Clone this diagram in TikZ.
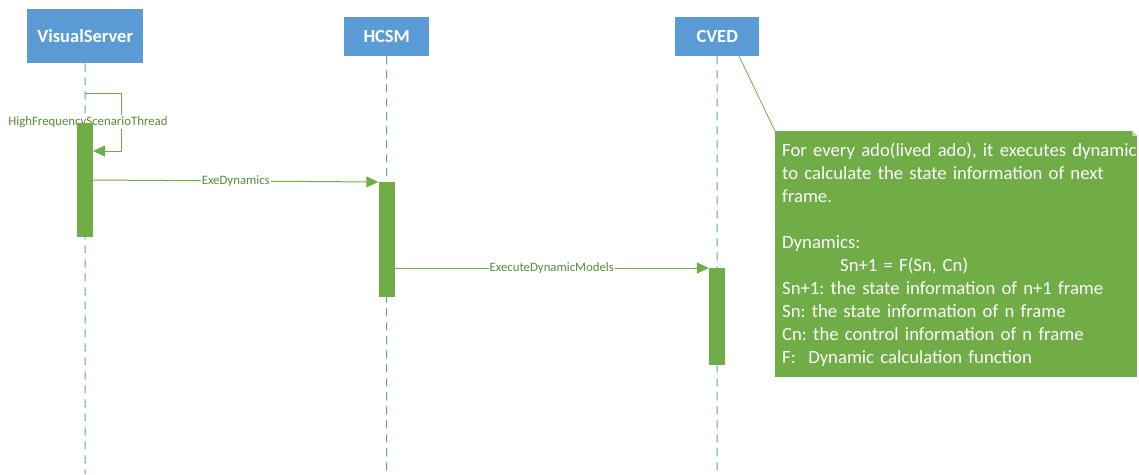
\documentclass[tikz,border=0pt]{standalone}
\usepackage{fontspec}
\setmainfont{Carlito}
\usetikzlibrary{arrows.meta}
\definecolor{hdrblue}{HTML}{5B9BD5}
\definecolor{actgreen}{HTML}{70AD47}
\definecolor{lblgreen}{HTML}{5A8A3A}
\frenchspacing
\begin{document}
\begin{tikzpicture}[x=1pt,y=-1pt,
  header/.style={fill=hdrblue, text=white, font=\bfseries\fontsize{18.5}{22}\selectfont,
    inner sep=0pt, anchor=north west},
  lifeline/.style={hdrblue, line width=1pt, dash pattern=on 8pt off 6pt},
  activation/.style={fill=actgreen, inner sep=0pt, minimum width=16pt, anchor=north},
  message/.style={actgreen, line width=1pt, -{Triangle[length=12pt,width=11pt]}},
  msglabel/.style={fill=white, text=lblgreen, font=\fontsize{12.8}{14}\selectfont, inner sep=1pt},
  notebox/.style={fill=actgreen, text=white, font=\fontsize{18.7}{23}\selectfont,
    inner xsep=7pt, inner ysep=0pt, text width=348pt, minimum height=246pt,
    align=left, anchor=north west},
]
\useasboundingbox (0,0) rectangle (1139,474);

% participants
\node[header, minimum width=116pt, minimum height=54pt] (vs) at (27,9) {VisualServer};
\node[header, minimum width=85pt, minimum height=39pt] (hcsm) at (344,17) {HCSM};
\node[header, minimum width=84pt, minimum height=39pt] (cved) at (675,17) {CVED};

% lifelines
\coordinate (vsend) at (85,474);
\coordinate (hcsmend) at (386.5,474);
\coordinate (cvedend) at (717,474);
\draw[lifeline] (vs.south) -- (vsend);
\draw[lifeline] (hcsm.south) -- (hcsmend);
\draw[lifeline] (cved.south) -- (cvedend);

% self call on VisualServer
\coordinate (loopstart) at (85,93);
\coordinate (loopend) at (93,151);
\draw[message] (loopstart) -- (121,93) -- (121,151) -- (loopend);
\node[msglabel] (looplbl) at (88,122) {HighFrequencyScenarioThread};

% activation bars
\node[activation, minimum height=114pt] (vsact) at (85,123) {};
\node[activation, minimum height=115pt] (hcsmact) at (386.5,182) {};
\node[activation, minimum height=97pt] (cvedact) at (717,268) {};

% messages
\draw[message] (vsact.east |- 0,180) -- node[msglabel] (exelbl) {ExeDynamics} (hcsmact.north west);
\draw[message] (hcsmact.east |- cvedact.north) -- node[msglabel] (execlbl) {ExecuteDynamicModels} (cvedact.north west);

% note
\node[notebox] (note) at (775,131) {%
\mbox{For every ado(lived ado), it executes dynamic}\\
to calculate the state information of next\\
frame.\\
\mbox{}\\
Dynamics:\\
\hspace*{58pt}Sn+1 = F(Sn, Cn)\\
Sn+1: the state information of n+1 frame\\
Sn: the state information of n frame\\
Cn: the control information of n frame\\
F:\ \ Dynamic calculation function};
\fill[white] ([xshift=-5pt]note.north east) -- (note.north east) -- ([yshift=-5pt]note.north east) -- cycle;
\fill[actgreen!45!white] ([xshift=-5pt]note.north east) -- ([yshift=-5pt]note.north east) -- ([xshift=-5pt,yshift=-5pt]note.north east) -- cycle;
\draw[actgreen, line width=0.8pt] ([xshift=22pt]cved.south) -- (note.north west);
\end{tikzpicture}
\end{document}
